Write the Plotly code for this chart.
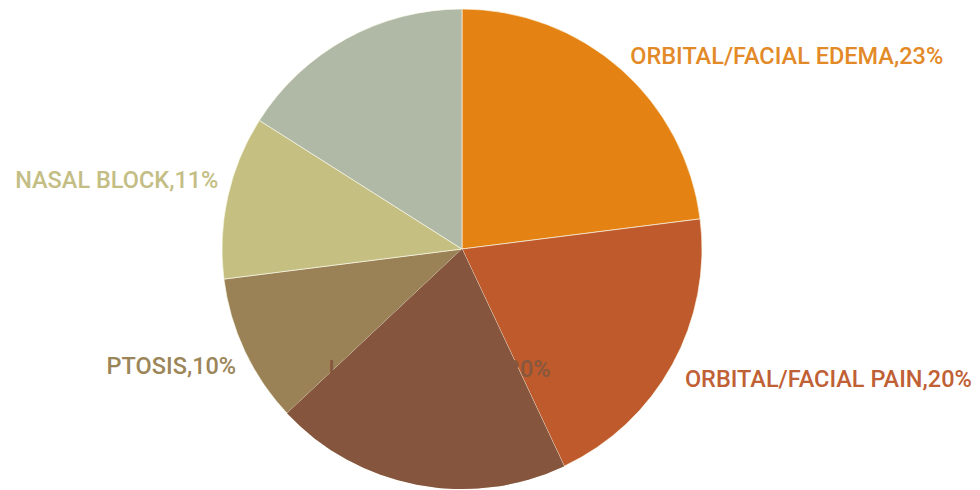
import math
import plotly.graph_objects as go

# ---- data ----
categories = ["ORBITAL/FACIAL EDEMA", "ORBITAL/FACIAL PAIN", "LOSS OF VISION",
              "PTOSIS", "NASAL BLOCK", "OTHERS"]
values = [23, 20, 20, 10, 11, 16]
colors = ["#E48214", "#BE5A2B", "#85553E", "#9B8256", "#C5BF82", "#B0B8A6"]
label_colors = ["#E38A28", "#BF6035", "#86583F", "#9C8659", "#C4BE85", "#B0B8A6"]

# ---- layout constants ----
W, H = 980, 490
CX, CY, R = 462, 249, 240          # pie centre / radius in pixels
FONT = dict(family="Roboto", size=23.5, weight=500)
# per-label placement: (radius factor, vertical nudge px, side)
label_place = [(1.06, 0, "out"), (1.06, 10, "out"), (0.5, 2, "in"),
               (1.04, 13, "out"), (1.04, -12, "out"), (0.5, 0, "in")]
OVERLAP_IDX = 2   # label that sits partly over neighbours but under its own slice

fig = go.Figure()
total = sum(values)
pie_domain = dict(x=[(CX - R) / W, (CX + R) / W],
                  y=[(H - CY - R) / H, (H - CY + R) / H])

# base pie
fig.add_trace(go.Pie(
    labels=categories, values=values, sort=False, direction="clockwise",
    rotation=0, textinfo="none", hoverinfo="label+percent",
    marker=dict(colors=colors, line=dict(color="rgba(255,255,240,0.6)", width=1)),
    domain=pie_domain, showlegend=False))

cum = 0
for i, (cat, val, col, (rf, nudge, side)) in enumerate(
        zip(categories, values, label_colors, label_place)):
    mid = (cum + val / 2) / total * 2 * math.pi
    cum += val
    x = CX + rf * R * math.sin(mid)
    y = CY - rf * R * math.cos(mid) + nudge
    pct = round(val / total * 100)
    txt = f"{cat},{pct}%"
    if i == OVERLAP_IDX:
        # label drawn in treemap layer (above pie, below sunburst overlay)
        bw, bh = 320, 40
        fig.add_trace(go.Treemap(
            labels=[txt], parents=[""], values=[1],
            textinfo="label", textposition="middle center",
            textfont=dict(color=col, **FONT),
            marker=dict(colors=["rgba(0,0,0,0)"], line=dict(width=0)),
            root=dict(color="rgba(0,0,0,0)"),
            pathbar=dict(visible=False), tiling=dict(pad=0),
            hoverinfo="skip",
            domain=dict(x=[(x - bw / 2) / W, (x + bw / 2) / W],
                        y=[(H - y - bh / 2) / H, (H - y + bh / 2) / H])))
        continue
    if side == "in":
        continue  # fully hidden under its own slice
    pos = "middle right" if math.sin(mid) > 0 else "middle left"
    fig.add_trace(go.Scatter(
        x=[x], y=[y], mode="text", text=[txt],
        textposition=pos, marker=dict(size=0),
        textfont=dict(color=col, **FONT),
        hoverinfo="skip", showlegend=False))

# overlay: the slice that covers its own label (sunburst layer is above treemap).
# Sunburst runs counter-clockwise, so feed it in reverse order.
overlay_colors = [colors[i] if i == OVERLAP_IDX else "rgba(0,0,0,0)"
                  for i in range(len(categories))]
fig.add_trace(go.Sunburst(
    ids=categories[::-1], labels=categories[::-1],
    parents=[""] * len(categories), values=values[::-1],
    sort=False, rotation=90, textinfo="none",
    marker=dict(colors=overlay_colors[::-1], line=dict(width=0)),
    leaf=dict(opacity=1), hoverinfo="skip",
    domain=pie_domain))

fig.update_layout(
    width=W, height=H, margin=dict(l=0, r=0, t=0, b=0),
    paper_bgcolor="white", plot_bgcolor="rgba(0,0,0,0)",
    xaxis=dict(range=[0, W], visible=False, domain=[0, 1], fixedrange=True),
    yaxis=dict(range=[H, 0], visible=False, domain=[0, 1], fixedrange=True),
)

fig.write_html("out.html")
